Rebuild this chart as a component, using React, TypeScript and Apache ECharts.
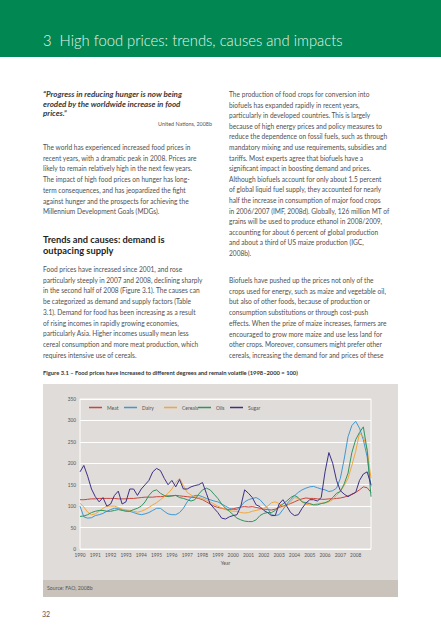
import React, { useEffect, useRef } from "react";
import * as echarts from "echarts";

// Quarterly index values (1998-2000 = 100), 1990 Q1 .. 2009 Q1
const startYear = 1990;
const endYear = 2009;
const seriesNames = ["Meat", "Dairy", "Cereals", "Oils", "Sugar"];
const seriesColors = ["#c9463d", "#3f98d2", "#f2a73a", "#2f9560", "#3d3186"];

const meat = [
  115, 115, 116, 117, 117, 118, 118, 118, 118, 118, 117, 117, 117, 118, 118, 119,
  120, 121, 121, 121, 122, 122, 123, 124, 124, 125, 124, 123, 122, 121, 120, 118,
  115, 110, 105, 100, 97, 95, 93, 92, 94, 96, 98, 99, 98, 99, 97, 95,
  93, 92, 91, 93, 97, 100, 103, 106, 110, 114, 117, 119, 118, 118, 117, 116,
  116, 117, 117, 118, 119, 121, 124, 127, 132, 138, 145, 143, 132,
];
const dairy = [
  100, 75, 72, 73, 78, 80, 83, 88, 92, 95, 95, 92, 90, 88, 85, 82,
  80, 82, 85, 90, 95, 95, 88, 82, 80, 80, 85, 95, 110, 120, 125, 125,
  122, 118, 115, 112, 110, 105, 100, 95, 92, 92, 100, 110, 115, 118, 120, 115,
  105, 95, 80, 78, 80, 92, 105, 115, 124, 132, 138, 142, 145, 146, 143, 140,
  138, 134, 136, 142, 165, 210, 262, 288, 298, 282, 255, 215, 146,
];
const cereals = [
  107, 98, 86, 80, 82, 88, 95, 100, 100, 100, 97, 93, 91, 90, 88, 86,
  88, 92, 97, 103, 108, 115, 122, 130, 140, 155, 165, 148, 132, 126, 122, 120,
  118, 114, 110, 105, 100, 96, 92, 90, 88, 88, 85, 84, 85, 88, 90, 92,
  95, 100, 108, 110, 106, 100, 100, 110, 120, 118, 110, 104, 103, 103, 106, 107,
  107, 110, 115, 125, 135, 148, 165, 195, 228, 270, 262, 232, 165,
];
const oils = [
  76, 77, 80, 85, 88, 90, 90, 88, 88, 90, 92, 90, 88, 88, 92, 95,
  100, 110, 125, 135, 138, 130, 125, 122, 124, 125, 120, 118, 115, 112, 115, 128,
  138, 142, 138, 128, 118, 105, 95, 88, 80, 72, 68, 65, 64, 64, 68, 78,
  83, 85, 85, 90, 99, 105, 112, 120, 125, 120, 110, 108, 106, 103, 103, 106,
  108, 112, 120, 130, 134, 152, 177, 225, 255, 272, 285, 230, 122,
];
const sugar = [
  180, 195, 170, 140, 122, 110, 120, 100, 105, 125, 135, 105, 110, 140, 140, 125,
  140, 150, 160, 180, 188, 183, 165, 150, 160, 145, 162, 140, 140, 145, 148, 150,
  155, 130, 105, 95, 85, 72, 70, 75, 78, 80, 100, 138, 130, 120, 103, 99,
  90, 85, 78, 78, 105, 115, 100, 85, 78, 80, 95, 107, 115, 115, 112, 120,
  180, 225, 200, 160, 136, 128, 122, 128, 132, 160, 175, 180, 150,
];
const seriesValues = [meat, dairy, cereals, oils, sugar];
const legendLeft = [89, 124, 164, 198, 230];

const titleText = "3  High food prices: trends, causes and impacts";
const quoteLines = [
  "\u201CProgress in reducing hunger is now being",
  "eroded by the worldwide increase in food",
  "prices.\u201D",
];
const quoteSource = "United Nations, 2008b";
const para1 = [
  "The world has experienced increased food prices in",
  "recent years, with a dramatic peak in 2008. Prices are",
  "likely to remain relatively high in the next few years.",
  "The impact of high food prices on hunger has long-",
  "term consequences, and has jeopardized the fight",
  "against hunger and the prospects for achieving the",
  "Millennium Development Goals (MDGs).",
];
const headingLines = ["Trends and causes: demand is", "outpacing supply"];
const para2 = [
  "Food prices have increased since 2001, and rose",
  "particularly steeply in 2007 and 2008, declining sharply",
  "in the second half of 2008 (Figure 3.1). The causes can",
  "be categorized as demand and supply factors (Table",
  "3.1). Demand for food has been increasing as a result",
  "of rising incomes in rapidly growing economies,",
  "particularly Asia. Higher incomes usually mean less",
  "cereal consumption and more meat production, which",
  "requires intensive use of cereals.",
];
const para3 = [
  "The production of food crops for conversion into",
  "biofuels has expanded rapidly in recent years,",
  "particularly in developed countries. This is largely",
  "because of high energy prices and policy measures to",
  "reduce the dependence on fossil fuels, such as through",
  "mandatory mixing and use requirements, subsidies and",
  "tariffs. Most experts agree that biofuels have a",
  "significant impact in boosting demand and prices.",
  "Although biofuels account for only about 1.5 percent",
  "of global liquid fuel supply, they accounted for nearly",
  "half the increase in consumption of major food crops",
  "in 2006/2007 (IMF, 2008d). Globally, 126 million MT of",
  "grains will be used to produce ethanol in 2008/2009,",
  "accounting for about 6 percent of global production",
  "and about a third of US maize production (IGC,",
  "2008b).",
];
const para4 = [
  "Biofuels have pushed up the prices not only of the",
  "crops used for energy, such as maize and vegetable oil,",
  "but also of other foods, because of production or",
  "consumption substitutions or through cost-push",
  "effects. When the prize of maize increases, farmers are",
  "encouraged to grow more maize and use less land for",
  "other crops. Moreover, consumers might prefer other",
  "cereals, increasing the demand for and prices of these",
];
const captionText =
  "Figure 3.1 \u2013 Food prices have increased to different degrees and remain volatile (1998\u20132000 = 100)";
const sourceText = "Source: FAO, 2008b";
const pageNumber = "32";

const FONT = "Lato, 'Open Sans', sans-serif";

function textLines(lines: string[], x: number, y0: number, step: number, style: any) {
  return lines.map((t, i) => ({
    type: "text",
    x,
    y: y0 + i * step,
    silent: true,
    style: {
      text: t,
      fontFamily: FONT,
      textVerticalAlign: "middle",
      textAlign: "left",
      ...style,
    },
  }));
}

export default function App() {
  const ref = useRef<HTMLDivElement>(null);
  useEffect(() => {
    const chart = echarts.init(ref.current!, null, { renderer: "svg" });
    const bodyStyle = { fontSize: 6.6, fill: "#505050" };
    const graphics: any[] = [
      { type: "rect", z: -10, silent: true, shape: { x: 0, y: 0, width: 441, height: 57 }, style: { fill: "#008752" } },
      {
        type: "text", x: 43, y: 40, silent: true,
        style: { text: titleText, fontFamily: FONT, fontWeight: 300, fontSize: 14.8, fill: "#e6f4ec", textVerticalAlign: "middle" },
      },
      ...textLines(quoteLines, 43, 94, 9.7, { fontSize: 8, fontWeight: "bold", fontStyle: "italic", fill: "#3a3a3a" }),
      {
        type: "text", x: 212, y: 124, silent: true,
        style: { text: quoteSource, fontFamily: FONT, fontSize: 5.4, fill: "#555", textAlign: "right", textVerticalAlign: "middle" },
      },
      ...textLines(para1, 43, 147, 10.7, bodyStyle),
      ...textLines(headingLines, 43, 239, 11, { fontSize: 9.3, fontWeight: "bold", fill: "#1e1e1e" }),
      ...textLines(para2, 43, 269, 10.7, bodyStyle),
      ...textLines(para3, 229, 94, 10.6, bodyStyle),
      ...textLines(para4, 229, 280, 10.7, bodyStyle),
      ...textLines([captionText], 43, 372, 10, { fontSize: 5.8, fontWeight: "bold", fill: "#333" }),
      { type: "rect", z: -10, silent: true, shape: { x: 43, y: 384, width: 355, height: 196 }, style: { fill: "#dfdcd9" } },
      { type: "rect", z: -10, silent: true, shape: { x: 43, y: 580, width: 355, height: 17 }, style: { fill: "#c9c3bb" } },
      ...textLines([sourceText], 47, 588, 10, { fontSize: 5.2, fill: "#555" }),
      ...textLines([pageNumber], 42, 614, 10, { fontSize: 7, fill: "#555" }),
    ];

    chart.setOption({
      animation: false,
      backgroundColor: "#ffffff",
      graphic: graphics,
      legend: seriesNames.map((n, i) => ({
        data: [n],
        left: legendLeft[i],
        top: 405,
        padding: 0,
        icon: "rect",
        itemWidth: 13,
        itemHeight: 1.5,
        itemGap: 0,
        textStyle: { fontSize: 5, color: "#555", fontFamily: FONT },
      })),
      grid: {
        left: 80,
        top: 399,
        width: 291,
        height: 150,
        show: true,
        borderColor: "#ffffff",
        borderWidth: 1,
        backgroundColor: "transparent",
      },
      xAxis: {
        type: "value",
        min: startYear,
        max: endYear,
        interval: 1,
        axisLine: { show: false },
        axisTick: { show: false },
        splitLine: { show: false },
        axisLabel: {
          fontSize: 4.8,
          color: "#555",
          margin: 3,
          fontFamily: FONT,
          formatter: (v: number) => (v === endYear ? "" : String(v)),
        },
        name: "Year",
        nameLocation: "middle",
        nameGap: 11,
        nameTextStyle: { fontSize: 5, color: "#555", fontFamily: FONT },
      },
      yAxis: {
        type: "value",
        min: 0,
        max: 350,
        interval: 50,
        axisLine: { show: false },
        axisTick: { show: false },
        splitLine: { show: true, lineStyle: { color: "#ffffff", width: 1 } },
        axisLabel: { fontSize: 4.8, color: "#555", margin: 4, fontFamily: FONT },
      },
      series: seriesNames.map((n, i) => ({
        name: n,
        type: "line",
        showSymbol: false,
        symbol: "none",
        color: seriesColors[i],
        lineStyle: { width: 1, color: seriesColors[i] },
        data: seriesValues[i].map((v, k) => [startYear + k / 4, v]),
      })),
    });
    return () => chart.dispose();
  }, []);
  return (
    <div
      ref={ref}
      style={{ position: "absolute", left: 0, top: 0, width: 441, height: 640, background: "#fff" }}
    />
  );
}
